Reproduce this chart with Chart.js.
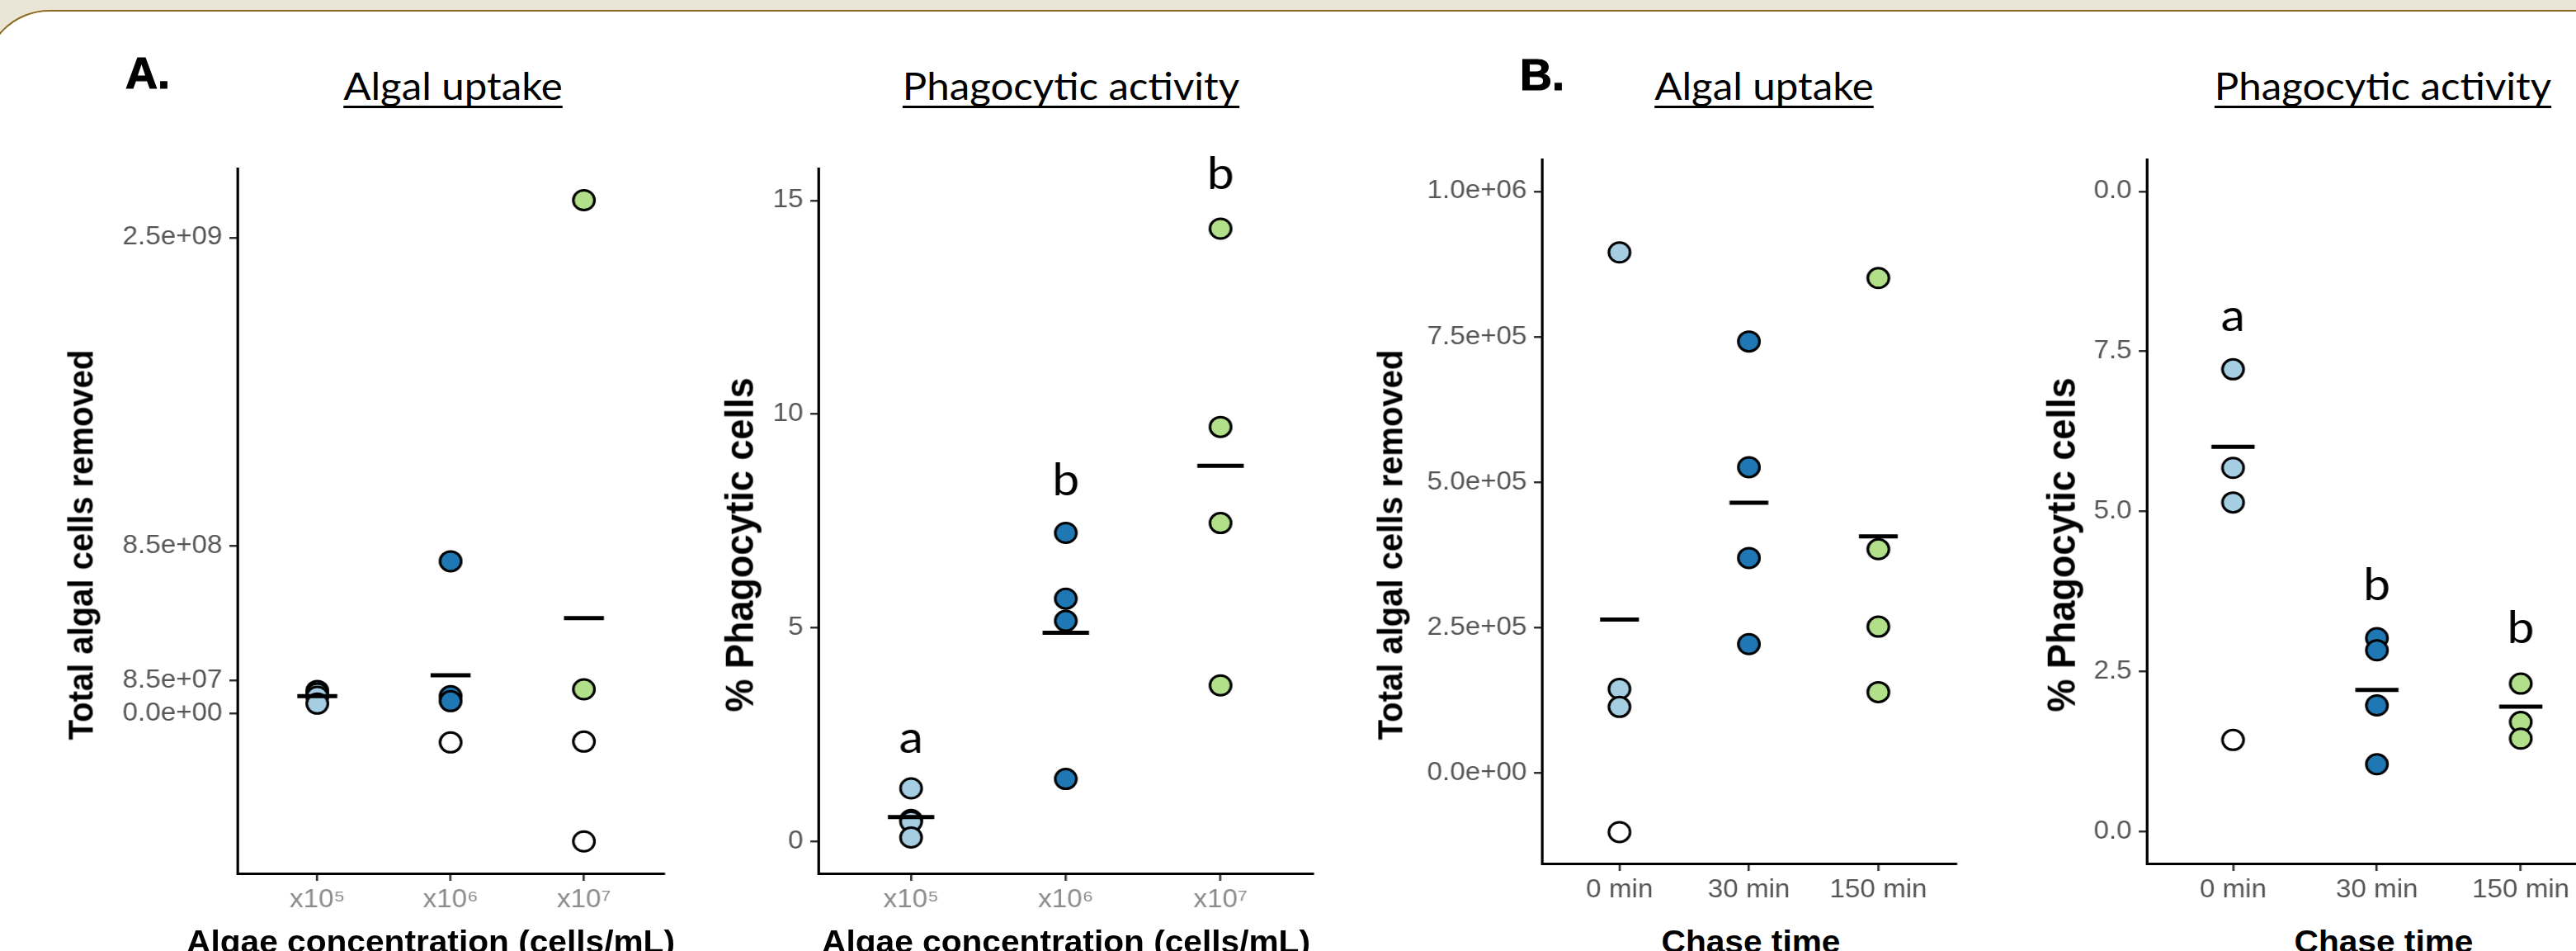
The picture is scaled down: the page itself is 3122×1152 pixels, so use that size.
<!DOCTYPE html>
<html>
<head>
<meta charset="utf-8">
<script src="https://cdn.jsdelivr.net/npm/chart.js"></script>
<style>
  html, body { margin: 0; padding: 0; width: 3122px; height: 1152px; overflow: hidden; background: #ebe5d8; }
  #frame { position: absolute; left: -20px; top: 12px; width: 3300px; height: 1300px; background: #fff;
           border: 2px solid #8b6b1e; border-top-left-radius: 80px; box-sizing: border-box; }
  canvas { position: absolute; transform-origin: 0 0; }
  .txt { position: absolute; white-space: nowrap; line-height: 1; color: #000; }
  .panelLetter { font-family: "Liberation Sans", Arial, sans-serif; font-weight: bold; font-size: 54px; -webkit-text-stroke: 1.2px #000; }
  .ptitle { font-family: Lato, "Open Sans", sans-serif; font-size: 46px; text-decoration: underline;
            text-decoration-thickness: 3px; text-underline-offset: 7px; text-decoration-skip-ink: none; }
  .atitle { font-family: "Liberation Sans", Arial, sans-serif; font-weight: bold; }
</style>
</head>
<body>
<div id="frame"></div>
<canvas id="cAUptake"></canvas>
<canvas id="cAPhago"></canvas>
<canvas id="cBUptake"></canvas>
<canvas id="cBPhago"></canvas>

<div class="txt panelLetter" style="left:152px; top:61px;">A.</div>
<div class="txt panelLetter" style="left:1842px; top:63px;">B.</div>

<div class="txt ptitle" style="left:549px; top:104px; transform:translate(-50%,-50%) scaleX(1.07);">Algal uptake</div>
<div class="txt ptitle" style="left:1298px; top:104px; transform:translate(-50%,-50%) scaleX(1.07);">Phagocytic activity</div>
<div class="txt ptitle" style="left:2138px; top:104px; transform:translate(-50%,-50%) scaleX(1.07);">Algal uptake</div>
<div class="txt ptitle" style="left:2888px; top:104px; transform:translate(-50%,-50%) scaleX(1.07);">Phagocytic activity</div>

<div class="txt atitle" style="font-size:40px; left:97px; top:660px; transform:translate(-50%,-50%) scaleX(1.07) rotate(-90deg);">Total algal cells removed</div>
<div class="txt atitle" style="font-size:45px; left:896px; top:660px; transform:translate(-50%,-50%) scaleX(1.07) rotate(-90deg);">% Phagocytic cells</div>
<div class="txt atitle" style="font-size:40px; left:1684px; top:660px; transform:translate(-50%,-50%) scaleX(1.07) rotate(-90deg);">Total algal cells removed</div>
<div class="txt atitle" style="font-size:45px; left:2498px; top:660px; transform:translate(-50%,-50%) scaleX(1.07) rotate(-90deg);">% Phagocytic cells</div>

<div class="txt atitle" style="font-size:38px; left:522px; top:1141px; transform:translate(-50%,-50%) scaleX(1.07);">Algae concentration (cells/mL)</div>
<div class="txt atitle" style="font-size:38px; left:1292px; top:1141px; transform:translate(-50%,-50%) scaleX(1.07);">Algae concentration (cells/mL)</div>
<div class="txt atitle" style="font-size:38px; left:2122px; top:1141px; transform:translate(-50%,-50%) scaleX(1.07);">Chase time</div>
<div class="txt atitle" style="font-size:38px; left:2889px; top:1141px; transform:translate(-50%,-50%) scaleX(1.07);">Chase time</div>

<script>
// ---------------- DATA ----------------
const concCategories = ['x10\u2075', 'x10\u2076', 'x10\u2077'];
const chaseCategories = ['0 min', '30 min', '150 min'];
const groupColors = ['#a6cee3', '#1f78b4', '#b2df8a'];

// A. Algal uptake (total algal cells removed)
const aUptakeColored = [[1.19e8, 1.05e8, 0.88e8, 0.52e8], [8.0e8, 0.91e8, 0.65e8], [2.697e9, 1.27e8]];
const aUptakeWhite = [[], [-1.52e8], [-1.475e8, -6.72e8]];
const aUptakeMeans = [0.91e8, 2.01e8, 5.01e8];
const aUptakeRange = [-8.40e8, 2.864e9];
const aUptakeTickValues = [0, 1.72e8, 8.80e8, 2.5e9];
const aUptakeTickLabels = ['0.0e+00', '8.5e+07', '8.5e+08', '2.5e+09'];

// A. Phagocytic activity (% phagocytic cells)
const aPhagoColored = [[1.24, 0.50, 0.46, 0.09], [7.22, 5.68, 5.16, 1.46], [14.34, 9.70, 7.45, 3.65]];
const aPhagoWhite = [[], [], []];
const aPhagoMeans = [0.57, 4.88, 8.79];
const aPhagoRange = [-0.75, 15.75];
const aPhagoTickValues = [0, 5, 10, 15];
const aPhagoTickLabels = ['0', '5', '10', '15'];
const aPhagoLetters = ['a', 'b', 'b'];
const aPhagoLetterY = [2.08, 8.10, 15.26];

// B. Algal uptake (total algal cells removed)
const bUptakeColored = [[8.95e5, 1.45e5, 1.14e5], [7.42e5, 5.26e5, 3.70e5, 2.22e5], [8.51e5, 3.85e5, 2.52e5, 1.395e5]];
const bUptakeWhite = [[-1.01e5], [], []];
const bUptakeMeans = [2.64e5, 4.65e5, 4.07e5];
const bUptakeRange = [-1.55e5, 1.055e6];
const bUptakeTickValues = [0, 2.5e5, 5.0e5, 7.5e5, 1.0e6];
const bUptakeTickLabels = ['0.0e+00', '2.5e+05', '5.0e+05', '7.5e+05', '1.0e+06'];

// B. Phagocytic activity (% phagocytic cells)
const bPhagoColored = [[7.22, 5.68, 5.14], [3.02, 2.83, 1.97, 1.05], [2.31, 1.71, 1.45]];
const bPhagoWhite = [[1.43], [], []];
const bPhagoMeans = [6.01, 2.21, 1.95];
const bPhagoRange = [-0.5, 10.5];
const bPhagoTickValues = [0, 2.5, 5.0, 7.5, 10];
const bPhagoTickLabels = ['0.0', '2.5', '5.0', '7.5', '0.0'];
const bPhagoLetters = ['a', 'b', 'b'];
const bPhagoLetterY = [7.82, 3.61, 2.94];

// ---------------- RENDERING ----------------
const K = 1.07; // horizontal stretch of the original figure
const FONT = '"Liberation Sans", Arial, sans-serif';

const sigLetterPlugin = {
  id: 'sigLetters',
  afterDatasetsDraw(chart, args, opts) {
    const letters = opts.letters || [];
    const ys = opts.ys || [];
    if (!letters.length) return;
    const { ctx } = chart;
    const xs = chart.scales.x, yS = chart.scales.y;
    ctx.save();
    ctx.font = '55px Lato, "Open Sans", sans-serif';
    ctx.fillStyle = '#000';
    ctx.textAlign = 'center';
    ctx.textBaseline = 'alphabetic';
    for (let i = 0; i < letters.length; i++) {
      ctx.fillText(letters[i], xs.getPixelForValue(i + 1), yS.getPixelForValue(ys[i]));
    }
    ctx.restore();
  }
};

function makePanel(id, geo, cats, colored, white, means, range, tickVals, tickLabels, letters, letterY) {
  const canvas = document.getElementById(id);
  const padT = 40, hx = 70;
  const plotW = (geo.right - geo.axisX) / K;
  const plotH = geo.bottom - geo.top;
  const cw = Math.ceil(geo.wy + plotW + 40);
  const padR = cw - geo.wy - plotW;
  const ch = padT + plotH + hx;
  canvas.width = cw;
  canvas.height = ch;
  canvas.style.left = (geo.axisX - K * geo.wy) + 'px';
  canvas.style.top = (geo.top - padT) + 'px';
  canvas.style.transform = 'scaleX(' + K + ')';

  const catPos = cats.map((_, i) => i + 1);
  const datasets = [];
  colored.forEach((vals, i) => {
    datasets.push({
      type: 'scatter',
      data: vals.map(v => ({ x: catPos[i], y: v })),
      backgroundColor: groupColors[i],
      borderColor: '#000',
      borderWidth: 3,
      pointRadius: 12,
      pointHoverRadius: 12,
      order: 2
    });
  });
  const whitePts = [];
  white.forEach((vals, i) => vals.forEach(v => whitePts.push({ x: catPos[i], y: v })));
  datasets.push({
    type: 'scatter',
    data: whitePts,
    backgroundColor: '#ffffff',
    borderColor: '#000',
    borderWidth: 3,
    pointRadius: 12,
    pointHoverRadius: 12,
    order: 2
  });
  const meanSeg = [];
  means.forEach((m, i) => {
    meanSeg.push({ x: catPos[i] - 0.15, y: m });
    meanSeg.push({ x: catPos[i] + 0.15, y: m });
    meanSeg.push({ x: catPos[i] + 0.3, y: null });
  });
  datasets.push({
    type: 'line',
    data: meanSeg,
    showLine: true,
    spanGaps: false,
    borderColor: '#000',
    borderWidth: 5,
    borderCapStyle: 'butt',
    pointRadius: 0,
    pointHoverRadius: 0,
    fill: false,
    tension: 0,
    order: 1
  });

  return new Chart(canvas, {
    type: 'scatter',
    data: { datasets },
    plugins: [sigLetterPlugin],
    options: {
      responsive: false,
      animation: false,
      devicePixelRatio: 1,
      layout: { padding: { left: 0, top: padT, right: padR, bottom: 0 } },
      plugins: {
        legend: { display: false },
        tooltip: { enabled: false },
        sigLetters: { letters: letters, ys: letterY }
      },
      scales: {
        x: {
          type: 'linear',
          position: 'bottom',
          min: 0.4, max: 3.6,
          bounds: 'data',
          afterBuildTicks: s => { s.ticks = catPos.map(v => ({ value: v })); },
          afterFit: s => { s.height = hx; },
          ticks: {
            callback: (v, i) => cats[i],
            font: { family: FONT, size: 31 },
            color: geo.xColor,
            padding: 5,
            autoSkip: false,
            maxRotation: 0, minRotation: 0
          },
          grid: { display: true, drawOnChartArea: false, drawTicks: true, tickLength: 9, color: '#333', lineWidth: 2.5 },
          border: { display: true, color: '#000', width: 3 }
        },
        y: {
          type: 'linear',
          position: 'left',
          min: range[0], max: range[1],
          bounds: 'data',
          afterBuildTicks: s => { s.ticks = tickVals.map(v => ({ value: v })); },
          afterFit: s => { s.width = geo.wy; },
          ticks: {
            callback: (v, i) => tickLabels[i],
            font: { family: FONT, size: 31 },
            color: '#555',
            padding: 8,
            autoSkip: false
          },
          grid: { display: true, drawOnChartArea: false, drawTicks: true, tickLength: 9, color: '#333', lineWidth: 2.5 },
          border: { display: true, color: '#000', width: 3 }
        }
      }
    }
  });
}

makePanel('cAUptake', { axisX: 288, right: 805, top: 204, bottom: 1058, wy: 180, xColor: '#8a8a8a' },
  concCategories, aUptakeColored, aUptakeWhite, aUptakeMeans, aUptakeRange, aUptakeTickValues, aUptakeTickLabels, [], []);
makePanel('cAPhago', { axisX: 992, right: 1592, top: 204, bottom: 1058, wy: 110, xColor: '#8a8a8a' },
  concCategories, aPhagoColored, aPhagoWhite, aPhagoMeans, aPhagoRange, aPhagoTickValues, aPhagoTickLabels, aPhagoLetters, aPhagoLetterY);
makePanel('cBUptake', { axisX: 1869, right: 2371, top: 193, bottom: 1046, wy: 180, xColor: '#555' },
  chaseCategories, bUptakeColored, bUptakeWhite, bUptakeMeans, bUptakeRange, bUptakeTickValues, bUptakeTickLabels, [], []);
makePanel('cBPhago', { axisX: 2602, right: 3160, top: 193, bottom: 1046, wy: 110, xColor: '#555' },
  chaseCategories, bPhagoColored, bPhagoWhite, bPhagoMeans, bPhagoRange, bPhagoTickValues, bPhagoTickLabels, bPhagoLetters, bPhagoLetterY);
</script>
</body>
</html>
